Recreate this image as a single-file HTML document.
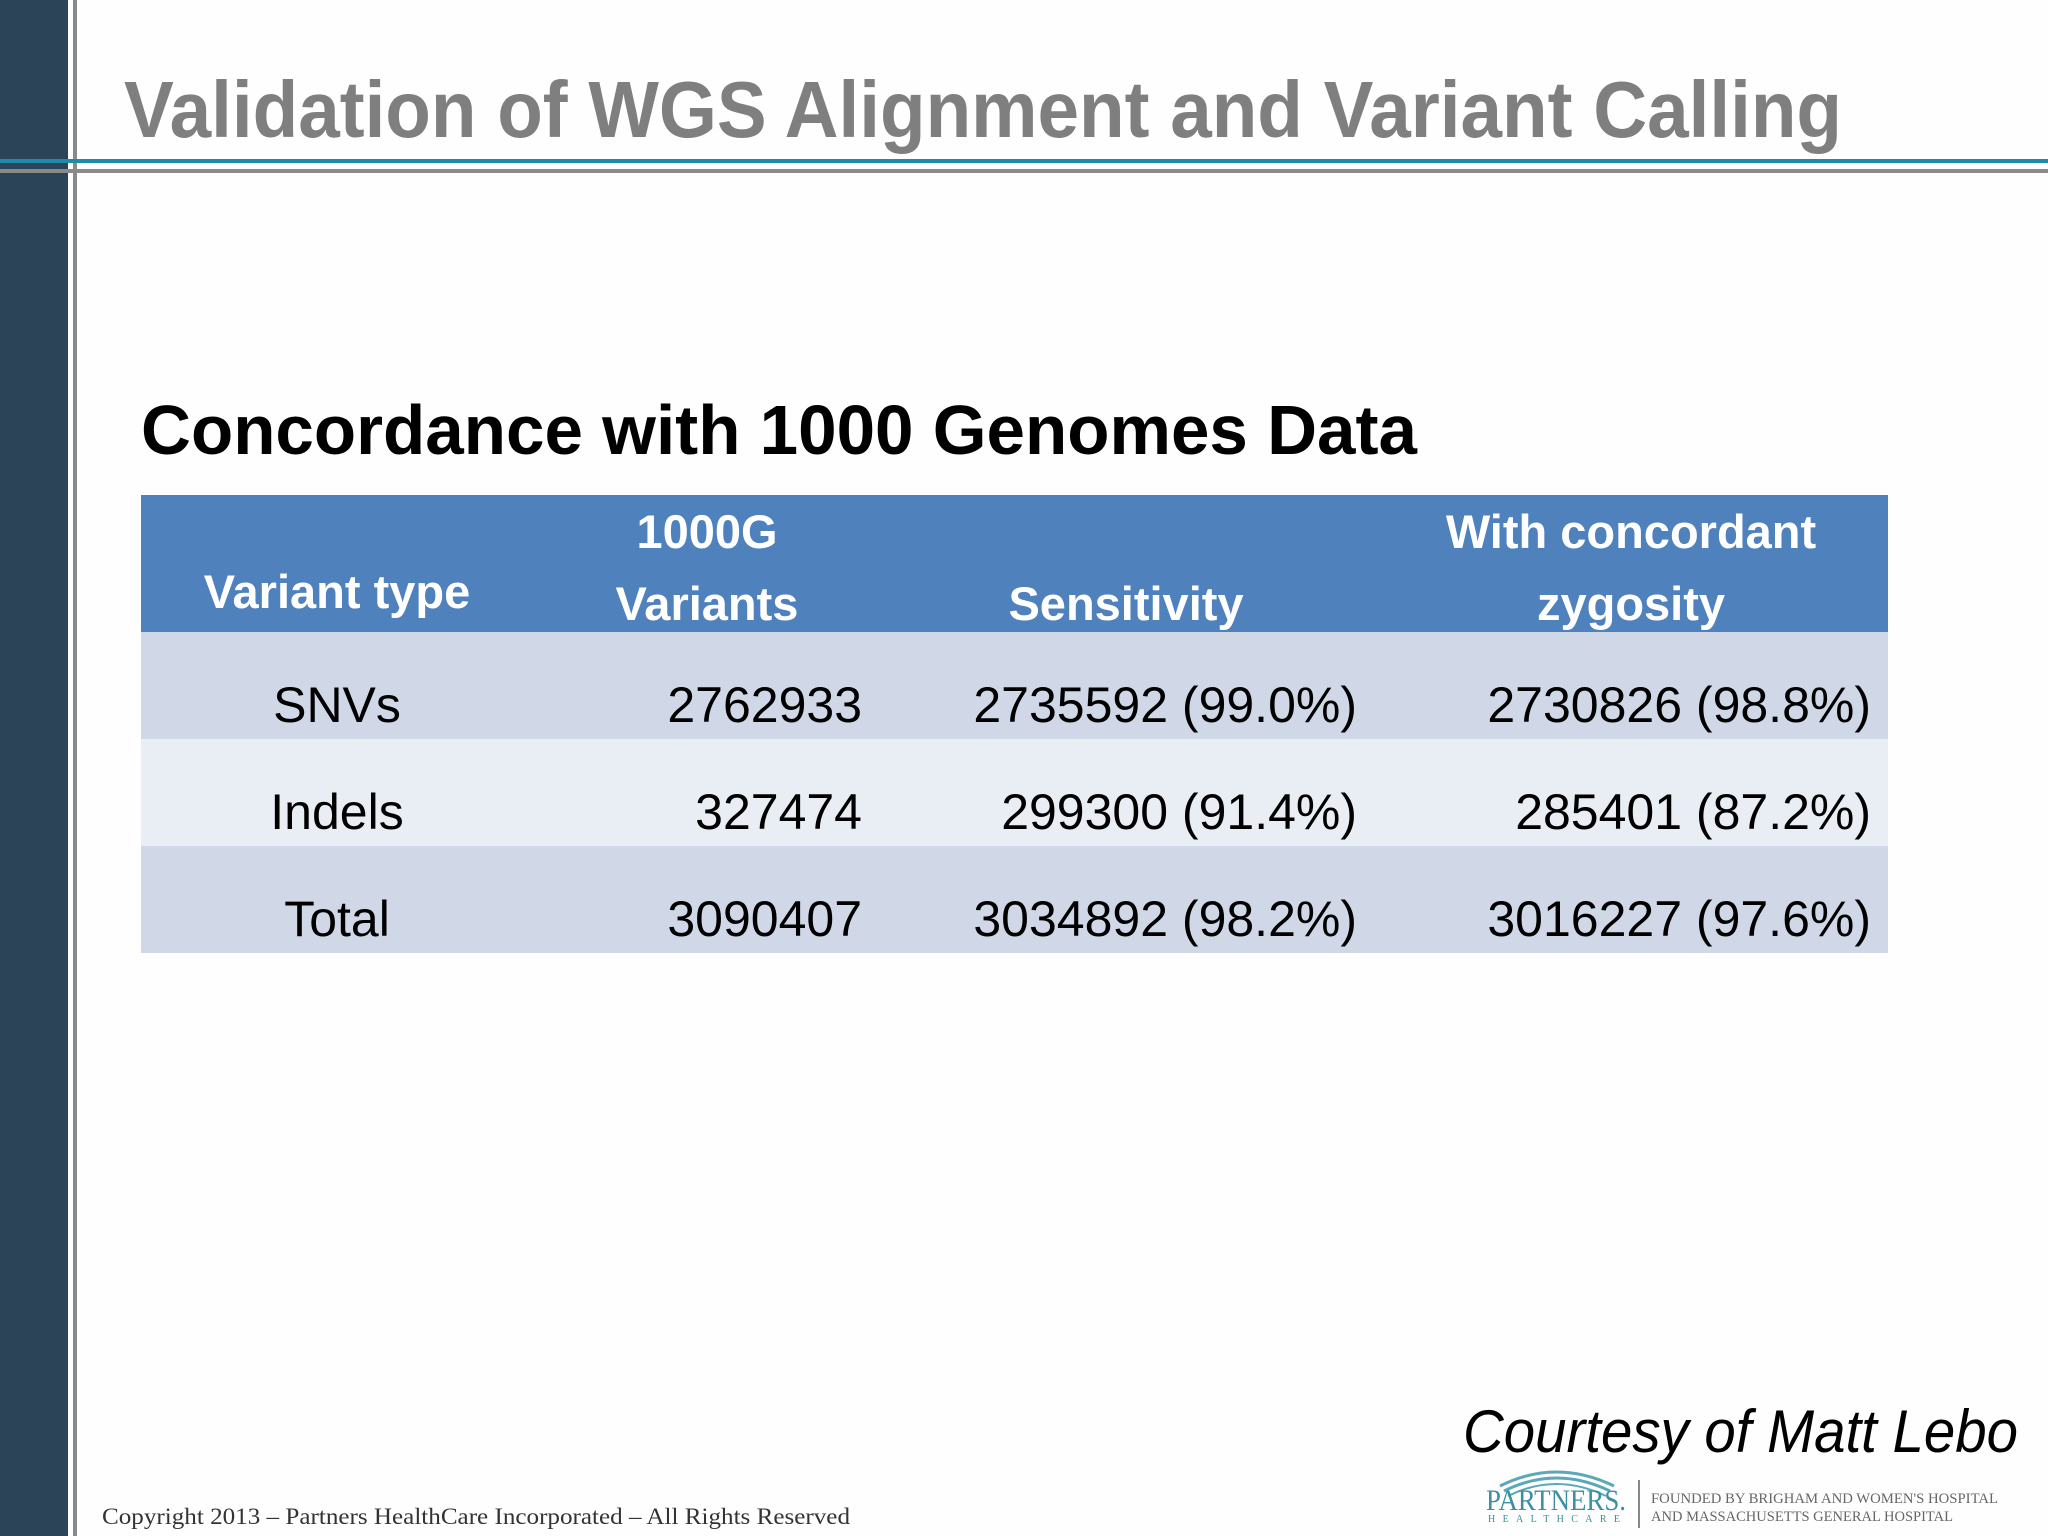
<!DOCTYPE html>
<html><head><meta charset="utf-8"><style>
html,body{margin:0;padding:0;background:#fff}
svg{display:block}
</style></head><body>
<svg id="s" width="2048" height="1536" viewBox="0 0 2048 1536" xmlns="http://www.w3.org/2000/svg">
<rect x="0" y="0" width="2048" height="1536" fill="#fefefe"/>
<rect x="0" y="0" width="68" height="1536" fill="#2c4458"/>
<rect x="73" y="0" width="4" height="1536" fill="#8a8a8a"/>
<rect x="0" y="159" width="2048" height="4" fill="#1f8aaa"/>
<rect x="0" y="169" width="2048" height="4" fill="#8a8a8a"/>
<text x="124" y="137" font-family="Liberation Sans, sans-serif" font-weight="bold" font-size="80" fill="#7f7f7f" textLength="1718" lengthAdjust="spacingAndGlyphs">Validation of WGS Alignment and Variant Calling</text>
<text x="141" y="454" font-family="Liberation Sans, sans-serif" font-weight="bold" font-size="70" fill="#000" textLength="1276" lengthAdjust="spacingAndGlyphs">Concordance with 1000 Genomes Data</text>
<g id="tbl"></g>
<text x="102" y="1524" font-family="Liberation Serif, serif" font-size="23" fill="#333" textLength="748" lengthAdjust="spacingAndGlyphs">Copyright 2013 – Partners HealthCare Incorporated – All Rights Reserved</text>
<text x="1463" y="1452" font-family="Liberation Sans, sans-serif" font-style="italic" font-size="60" fill="#000" textLength="555" lengthAdjust="spacingAndGlyphs">Courtesy of Matt Lebo</text>
<g>
<path d="M1500 1486 Q1556 1458 1614 1486" stroke="#5aa8b8" stroke-width="3" fill="none"/>
<path d="M1504 1491 Q1556 1465 1610 1491" stroke="#5aa8b8" stroke-width="3" fill="none"/>
<path d="M1508 1496 Q1556 1472 1606 1496" stroke="#5aa8b8" stroke-width="2" fill="none"/>
<text x="1486" y="1510" font-family="Liberation Serif, serif" font-size="30" fill="#3a8fa0" textLength="140" lengthAdjust="spacingAndGlyphs">PARTNERS.</text>
<text x="1488" y="1522" font-family="Liberation Serif, serif" font-size="10" fill="#3a8fa0" textLength="132" lengthAdjust="spacing">HEALTHCARE</text>
<rect x="1638" y="1480" width="2" height="48" fill="#888"/>
<text x="1651" y="1503" font-family="Liberation Serif, serif" font-size="15" fill="#666" textLength="347" lengthAdjust="spacingAndGlyphs">FOUNDED BY BRIGHAM AND WOMEN'S HOSPITAL</text>
<text x="1651" y="1521" font-family="Liberation Serif, serif" font-size="15" fill="#666" textLength="302" lengthAdjust="spacingAndGlyphs">AND MASSACHUSETTS GENERAL HOSPITAL</text>
</g>
</svg>
<script>
const variantTypes = ["SNVs", "Indels", "Total"];
const variants1000G = ["2762933", "327474", "3090407"];
const sensitivity = ["2735592 (99.0%)", "299300 (91.4%)", "3034892 (98.2%)"];
const concordant = ["2730826 (98.8%)", "285401 (87.2%)", "3016227 (97.6%)"];
const NS = "http://www.w3.org/2000/svg";
const g = document.getElementById("tbl");
function mk(tag, attrs, txt){const e=document.createElementNS(NS,tag);for(const k in attrs)e.setAttribute(k,attrs[k]);if(txt!==undefined)e.textContent=txt;g.appendChild(e);return e;}
const X0=141,X1=1888,HY=495,HH=137,RH=107;
const hdr=mk("rect",{x:X0,y:HY,width:X1-X0,height:HH,fill:"#4f81bd"});


const F="Liberation Sans, sans-serif";
const heads=[["Variant type",337,[608]],["1000G|Variants",707,[548,620]],["Sensitivity",1126,[620]],["With concordant|zygosity",1631,[548,620]]];
heads.forEach(h=>{const lines=h[0].split("|");lines.forEach((l,i)=>{const t=mk("text",{x:h[1],y:h[2][i],"text-anchor":"middle","font-family":F,"font-weight":"bold","font-size":"47",fill:"#fff"},l);

});});
const colors=["#d0d8e8","#e9edf4","#d0d8e8"];
variantTypes.forEach((v,i)=>{const y=HY+HH+i*RH;
const r=mk("rect",{x:X0,y:y,width:X1-X0,height:RH,fill:colors[i]});


const by=y+92;
const cells=[[v,337,"middle"],[variants1000G[i],862,"end"],[sensitivity[i],1357,"end"],[concordant[i],1871,"end"]];
cells.forEach(c=>{const t=mk("text",{x:c[1],y:by-2,"text-anchor":c[2],"font-family":F,"font-size":"50",fill:"#000"},c[0]);

});});
</script>
</body></html>
